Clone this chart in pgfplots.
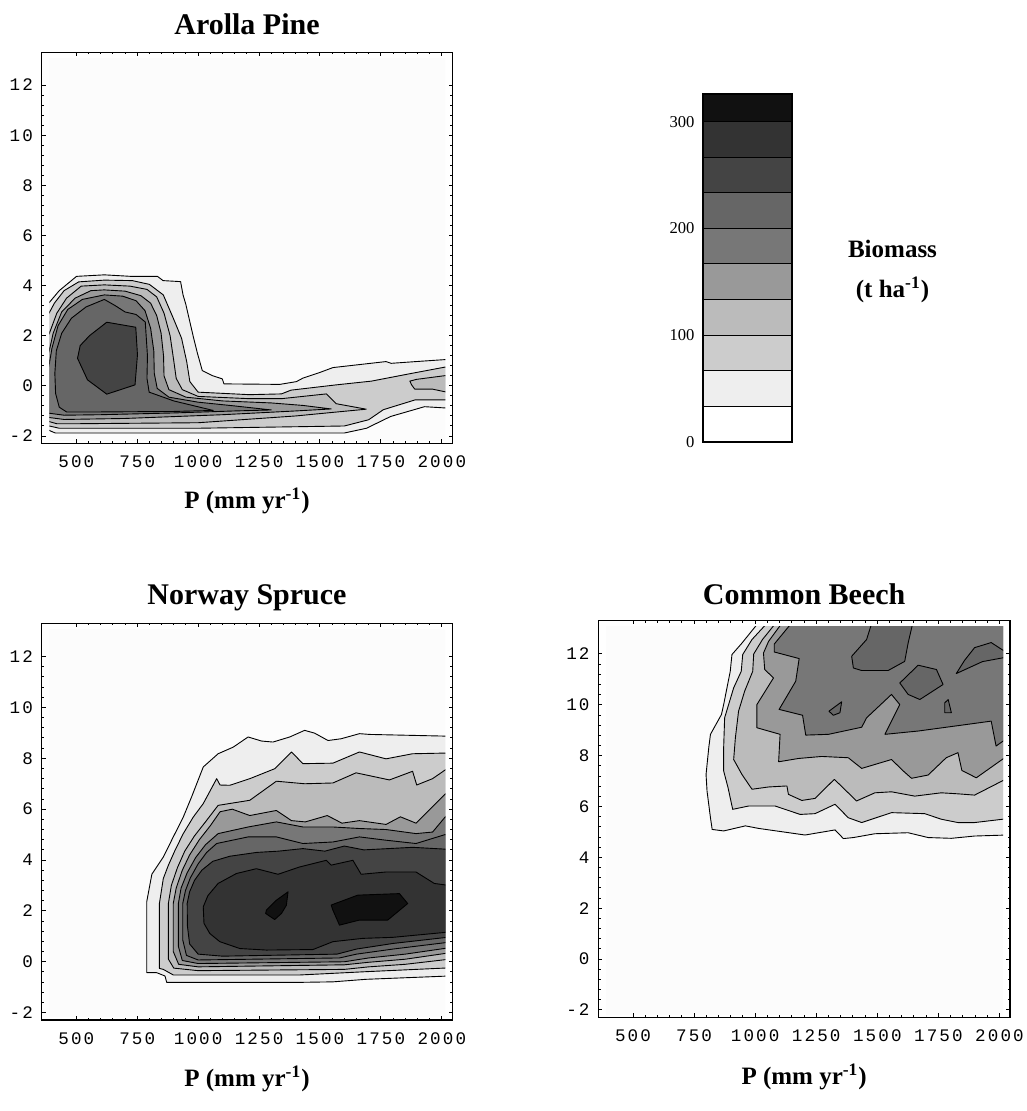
\documentclass[border=0pt]{standalone}
\usepackage{fontspec}
\setmainfont{Liberation Serif}
\newfontfamily\tickfont[LetterSpace=12]{Liberation Mono}
\usepackage{pgfplots}
\pgfplotsset{compat=1.18}
\definecolor{bgc}{gray}{0.988}
\definecolor{g1}{gray}{0.933}
\definecolor{g2}{gray}{0.800}
\definecolor{g3}{gray}{0.733}
\definecolor{g4}{gray}{0.600}
\definecolor{g5}{gray}{0.467}
\definecolor{g6}{gray}{0.400}
\definecolor{g7}{gray}{0.267}
\definecolor{g8}{gray}{0.200}
\definecolor{g9}{gray}{0.067}
\pgfplotsset{
  frameax/.style={scale only axis, anchor=south west, xmin=358, xmax=2043, ymin=-2.29, ymax=13.31,
    xtick={500,750,...,2000}, xticklabels={500,750,1000,1250,1500,1750,2000},
    ytick={-2,0,...,12}, yticklabels={-2,0,2,4,6,8,10,12},
    minor x tick num=4, minor y tick num=4, tick align=inside,
    major tick length=1.9pt, minor tick length=1.1pt,
    every tick/.style={black, line width=0.5pt},
    axis line style={line width=0.6pt},
    xticklabel style={font=\tickfont\fontsize{8.8}{10}\selectfont, anchor=center, yshift=-9.2pt},
    yticklabel style={font=\tickfont\fontsize{8.8}{10}\selectfont, anchor=east, inner sep=0pt, xshift=-4.2pt},
    every axis title/.style={at={(axis description cs:0.5,1)}, anchor=base, font=\bfseries\fontsize{15}{18}\selectfont},
    every axis x label/.style={at={(axis description cs:0.5,0)}, anchor=base, font=\bfseries\fontsize{12.5}{15}\selectfont},
    xlabel={P (mm yr\textsuperscript{-1})},
  },
  dataax/.style={scale only axis, anchor=south west, hide axis, xmin=389, xmax=2015, ymin=-2.17, ymax=13.07, clip=true},
  cl/.style={draw=black, line width=0.45pt, line join=round},
}
\begin{document}
\begin{tikzpicture}
\path[use as bounding box] (0,0) rectangle (513pt,555.5pt);
% ================= Arolla Pine =================
\begin{axis}[dataax, at={(24.627pt,335.354pt)}, width=198.11pt, height=190.99pt]
\addplot[fill=bgc, draw=none] coordinates {(300,-3)(2100,-3)(2100,14)(300,14)} -- cycle;
\addplot[cl, fill=g1] coordinates {(380,3.22) (430,3.80) (501,4.37) (615,4.43) (724,4.37) (833,4.37) (856,4.20) (928,4.16) (938,3.63) (949,3.27) (979,2.01) (996,1.34) (1017,0.61) (1058,0.41) (1099,0.28) (1106,0.08) (1335,0.06) (1403,0.17) (1430,0.31) (1498,0.53) (1553,0.73) (1771,0.97) (1792,0.90) (1894,0.97) (2030,1.06) (2030,-0.89) (1929,-0.83) (1790,-1.22) (1691,-1.69) (1600,-1.88) (1009,-1.88) (503,-1.88) (414,-1.88) (394,-1.80) (380,-1.72)} -- cycle;
\addplot[cl, fill=g2] coordinates {(380,2.75) (410,3.3) (450,3.8) (510,4.15) (615,4.22) (730,4.2) (800,4.05) (857,3.63) (898,2.7) (932,1.9) (953,0.97) (966,0.17) (1000,-0.25) (1210,-0.35) (1342,-0.32) (1381,-0.17) (1566,0.04) (1711,0.19) (1882,0.51) (2030,0.78) (2030,-0.56) (1890,-0.56) (1760,-0.95) (1700,-1.35) (1600,-1.6) (1000,-1.69) (500,-1.69) (430,-1.69) (380,-1.58)} -- cycle;
\addplot[cl, fill=g3] coordinates {(380,1.85) (420,2.9) (460,3.5) (520,3.98) (615,4.03) (720,3.98) (790,3.85) (830,3.55) (860,2.9) (885,2.0) (900,1.0) (910,0.3) (935,-0.15) (1000,-0.42) (1210,-0.51) (1342,-0.51) (1526,-0.32) (1566,-0.71) (1690,-0.93) (1560,-1.05) (1400,-1.2) (1000,-1.47) (500,-1.51) (420,-1.51) (380,-1.40)} -- cycle;
\addplot[cl, fill=g3] coordinates {(1869,0.19) (1896,0.26) (2030,0.43) (2030,-0.27) (1962,-0.13) (1889,-0.13) (1876,0.04)} -- cycle;
\addplot[cl, fill=g4] coordinates {(380,1.0) (405,2.1) (440,2.95) (495,3.5) (560,3.8) (615,3.83) (700,3.78) (765,3.6) (805,3.3) (830,2.8) (848,2.1) (858,1.2) (860,0.4) (880,-0.15) (950,-0.45) (1100,-0.6) (1300,-0.68) (1430,-0.78) (1546,-0.92) (1400,-1.0) (1100,-1.15) (700,-1.3) (450,-1.34) (380,-1.25)} -- cycle;
\addplot[cl, fill=g5] coordinates {(380,0.35) (400,1.5) (425,2.4) (465,3.05) (525,3.45) (615,3.63) (690,3.58) (745,3.4) (782,3.0) (805,2.3) (818,1.4) (820,0.5) (832,-0.1) (880,-0.45) (1000,-0.65) (1150,-0.8) (1300,-0.96) (1150,-1.0) (900,-1.08) (600,-1.15) (450,-1.17) (380,-1.08)} -- cycle;
\addplot[cl, fill=g6] coordinates {(412,0.5) (418,1.4) (440,2.1) (480,2.7) (540,3.15) (615,3.45) (660,3.2) (700,2.95) (745,2.85) (783,2.55) (792,1.2) (790,0.3) (799,-0.25) (900,-0.6) (1062,-0.98) (900,-1.02) (600,-1.04) (460,-1.04) (430,-0.85) (415,-0.3)} -- cycle;
\addplot[cl, fill=g7] coordinates {(625,2.54) (744,2.34) (751,1.24) (741,0.04) (625,-0.33) (546,0.24) (505,1.10) (516,1.61) (555,2.01)} -- cycle;
\end{axis}
\begin{axis}[frameax, at={(20.85pt,333.85pt)}, width=205.3pt, height=195.5pt,
  title={Arolla Pine}, title style={yshift=9pt}, xlabel style={yshift=-32.5pt}]
\end{axis}
% ================= Norway Spruce =================
\begin{axis}[dataax, at={(24.627pt,47.026pt)}, width=198.11pt, height=193.77pt]
\addplot[fill=bgc, draw=none] coordinates {(300,-3)(2100,-3)(2100,14)(300,14)} -- cycle;
\addplot[cl, fill=g1] coordinates {(789,-0.43) (789,2.36) (810,3.44) (857,4.12) (898,4.91) (939,5.69) (973,6.48) (1021,7.66) (1082,8.18) (1144,8.44) (1205,8.84) (1260,8.68) (1307,8.64) (1376,8.84) (1437,9.10) (1478,8.99) (1533,8.70) (1587,8.77) (1662,8.97) (1703,8.94) (2030,8.87) (2030,-0.56) (1689,-0.69) (1553,-0.79) (1417,-0.81) (871,-0.81) (864,-0.56) (830,-0.43)} -- cycle;
\addplot[cl, fill=g2] coordinates {(841,-0.26) (841,2.29) (857,3.27) (878,3.80) (905,4.38) (939,5.04) (980,5.69) (1021,6.22) (1076,7.20) (1090,6.95) (1130,6.94) (1212,7.20) (1314,7.59) (1383,8.25) (1430,7.79) (1553,7.81) (1662,8.25) (1771,7.98) (1880,8.18) (2030,8.21) (2030,-0.24) (1689,-0.39) (1417,-0.52) (898,-0.52) (857,-0.30)} -- cycle;
\addplot[cl, fill=g3] coordinates {(878,0.1) (878,2.3) (890,3.0) (915,3.7) (945,4.35) (985,4.95) (1030,5.5) (1082,6.15) (1212,6.35) (1321,7.10) (1437,7.0) (1553,7.03) (1648,7.43) (1785,7.15) (1880,7.49) (1897,6.95) (1962,7.2) (2030,7.65) (2030,0.1) (1850,-0.1) (1700,-0.2) (1600,-0.3) (1000,-0.35) (900,-0.25)} -- cycle;
\addplot[cl, fill=g4] coordinates {(898,0.4) (898,2.3) (910,2.9) (935,3.6) (965,4.2) (1005,4.8) (1050,5.35) (1090,5.9) (1140,6.0) (1212,5.75) (1321,5.95) (1383,5.55) (1440,5.5) (1530,5.75) (1590,5.45) (1662,5.55) (1771,5.4) (1830,5.7) (1894,5.45) (2030,6.75) (2030,0.35) (1850,0.1) (1700,-0.02) (1600,-0.12) (1000,-0.2) (920,-0.1)} -- cycle;
\addplot[cl, fill=g5] coordinates {(919,0.6) (919,2.3) (930,2.9) (955,3.5) (990,4.1) (1030,4.6) (1082,5.04) (1205,5.30) (1321,5.50) (1430,5.30) (1553,5.30) (1662,5.24) (1771,5.20) (1894,5.04) (1962,5.10) (2030,5.88) (2030,0.55) (1850,0.3) (1700,0.15) (1600,0.0) (1000,-0.07) (935,0.05)} -- cycle;
\addplot[cl, fill=g6] coordinates {(937,0.85) (937,2.3) (948,2.8) (968,3.3) (1000,3.85) (1035,4.3) (1076,4.65) (1205,4.91) (1321,4.91) (1430,4.65) (1553,4.71) (1662,4.91) (1771,4.78) (1894,4.65) (2030,5.05) (2030,0.77) (1800,0.5) (1650,0.3) (1580,0.15) (1000,0.07) (952,0.25)} -- cycle;
\addplot[cl, fill=g7] coordinates {(956,1.4) (955,2.3) (965,2.75) (985,3.2) (1015,3.6) (1060,3.95) (1130,4.15) (1240,4.3) (1330,4.35) (1430,4.45) (1520,4.35) (1600,4.55) (1680,4.4) (1780,4.45) (1880,4.5) (2030,4.42) (2030,0.97) (1800,0.72) (1650,0.5) (1570,0.3) (1100,0.22) (1000,0.3) (965,0.7)} -- cycle;
\addplot[cl, fill=g8] coordinates {(1021,2.16) (1040,2.6) (1082,3.08) (1157,3.47) (1239,3.66) (1328,3.44) (1417,3.73) (1526,3.99) (1546,3.80) (1635,3.99) (1669,3.44) (1771,3.53) (1894,3.53) (1969,3.08) (2030,3.0) (2030,1.17) (1799,0.96) (1676,0.92) (1553,0.79) (1471,0.48) (1280,0.46) (1171,0.52) (1089,0.79) (1048,1.11) (1024,1.51)} -- cycle;
\addplot[cl, fill=g9] coordinates {(1280,2.03) (1321,2.42) (1369,2.75) (1362,2.22) (1342,1.90) (1314,1.66) (1277,1.90)} -- cycle;
\addplot[cl, fill=g9] coordinates {(1546,2.23) (1655,2.62) (1826,2.68) (1860,2.29) (1778,1.64) (1662,1.64) (1580,1.44) (1553,2.03)} -- cycle;
\end{axis}
\begin{axis}[frameax, at={(20.85pt,45.5pt)}, width=205.3pt, height=198.35pt,
  title={Norway Spruce}, title style={yshift=9.5pt}, xlabel style={yshift=-33pt}]
\end{axis}
% ================= Common Beech =================
\begin{axis}[dataax, at={(302.937pt,48.375pt)}, width=198.64pt, height=193.72pt]
\addplot[fill=bgc, draw=none] coordinates {(300,-3)(2100,-3)(2100,14)(300,14)} -- cycle;
\addplot[cl, fill=g1] coordinates {(1019,13.3) (946,12.43) (905,11.98) (898,11.32) (871,10.01) (862,9.62) (817,8.84) (810,8.31) (799,7.26) (803,6.61) (817,5.56) (824,5.10) (871,5.04) (960,5.24) (1014,5.14) (1204,4.88) (1327,5.08) (1361,4.74) (1402,4.78) (1490,4.93) (1626,4.97) (1708,4.78) (1803,4.75) (1898,4.84) (2030,4.88) (2030,13.3)} -- cycle;
\addplot[cl, fill=g2] coordinates {(1057,13.3) (987,12.57) (949,11.98) (943,11.32) (912,10.67) (875,9.49) (871,8.31) (871,7.40) (889,6.74) (908,5.89) (973,6.02) (1082,6.02) (1184,5.69) (1245,5.72) (1327,6.09) (1381,5.56) (1436,5.37) (1558,5.76) (1694,5.72) (1762,5.50) (1830,5.37) (1898,5.37) (2030,5.52) (2030,13.3)} -- cycle;
\addplot[cl, fill=g3] coordinates {(1091,13.3) (1030,12.57) (994,12.0) (990,11.32) (957,10.54) (932,9.75) (919,8.70) (912,7.85) (946,7.26) (987,6.68) (1055,6.77) (1130,6.81) (1136,6.48) (1191,6.24) (1245,6.32) (1324,7.07) (1415,6.22) (1490,6.54) (1558,6.58) (1653,6.41) (1762,6.54) (1830,6.50) (1898,6.45) (2030,7.1) (2030,13.3)} -- cycle;
\addplot[cl, fill=g4] coordinates {(1116,13.3) (1055,12.5) (1034,12.04) (1039,11.39) (1075,11.06) (1007,10.01) (1007,9.10) (1102,8.84) (1096,7.76) (1177,7.89) (1272,7.97) (1381,7.92) (1436,7.50) (1558,7.85) (1606,7.40) (1640,7.11) (1708,7.24) (1782,7.92) (1830,8.12) (1846,7.42) (1905,7.13) (2030,7.98) (2030,13.3)} -- cycle;
\addplot[cl, fill=g5] coordinates {(1156,13.3) (1078,12.39) (1078,12.08) (1180,11.82) (1166,10.93) (1098,9.82) (1194,9.59) (1207,8.81) (1300,8.84) (1436,9.12) (1456,9.49) (1558,10.41) (1592,10.01) (1531,8.84) (1667,8.97) (1844,9.20) (1966,9.36) (1986,8.38) (2014,8.57) (2030,8.7) (2030,13.3)} -- cycle;
\addplot[cl, fill=g6] coordinates {(1480,13.3) (1456,12.57) (1395,11.91) (1402,11.45) (1436,11.35) (1544,11.35) (1612,11.71) (1626,12.43) (1647,13.3)} -- cycle;
\addplot[cl, fill=g6] coordinates {(1592,10.86) (1667,11.56) (1742,11.39) (1769,10.8) (1674,10.21) (1626,10.41)} -- cycle;
\addplot[cl, fill=g6] coordinates {(1823,11.23) (1857,11.75) (1898,12.25) (1966,12.45) (2014,12.15) (2030,12.1) (2030,11.85) (2014,11.85) (1930,11.7)} -- cycle;
\addplot[cl, fill=g6] coordinates {(1776,10.08) (1790,10.21) (1803,9.69) (1776,9.69)} -- cycle;
\addplot[cl, fill=g6] coordinates {(1302,9.75) (1354,10.12) (1347,9.69) (1320,9.59)} -- cycle;
\end{axis}
\begin{axis}[frameax, at={(299.15pt,46.85pt)}, width=205.85pt, height=198.3pt,
  title={Common Beech}, title style={yshift=8.2pt}, xlabel style={yshift=-33.5pt}]
\end{axis}
% ================= Colour bar =================
\begin{axis}[scale only axis, anchor=south west, at={(351.65pt,334.65pt)}, width=44.5pt, height=173.7pt,
  xmin=0, xmax=1, ymin=0, ymax=325.6, xtick=\empty, ytick={0,100,200,300}, yticklabels={0,100,200,300},
  major tick length=0pt, yticklabel style={font=\fontsize{8.3}{10}\selectfont, anchor=east, inner sep=0pt, xshift=-4.2pt},
  axis line style={line width=1pt}, axis on top, clip=true]
\addplot[fill=white, cl] coordinates {(-1,-10)(2,-10)(2,33.33)(-1,33.33)} -- cycle;
\addplot[fill=g1, cl] coordinates {(-1,33.33)(2,33.33)(2,66.67)(-1,66.67)} -- cycle;
\addplot[fill=g2, cl] coordinates {(-1,66.67)(2,66.67)(2,100)(-1,100)} -- cycle;
\addplot[fill=g3, cl] coordinates {(-1,100)(2,100)(2,133.33)(-1,133.33)} -- cycle;
\addplot[fill=g4, cl] coordinates {(-1,133.33)(2,133.33)(2,166.67)(-1,166.67)} -- cycle;
\addplot[fill=g5, cl] coordinates {(-1,166.67)(2,166.67)(2,200)(-1,200)} -- cycle;
\addplot[fill=g6, cl] coordinates {(-1,200)(2,200)(2,233.33)(-1,233.33)} -- cycle;
\addplot[fill=g7, cl] coordinates {(-1,233.33)(2,233.33)(2,266.67)(-1,266.67)} -- cycle;
\addplot[fill=g8, cl] coordinates {(-1,266.67)(2,266.67)(2,300)(-1,300)} -- cycle;
\addplot[fill=g9, cl] coordinates {(-1,300)(2,300)(2,340)(-1,340)} -- cycle;
\end{axis}
\node[anchor=base, font=\bfseries\fontsize{12.5}{15}\selectfont] at (446.25pt,426.85pt) {Biomass};
\node[anchor=base, font=\bfseries\fontsize{12.5}{15}\selectfont] at (446.25pt,406.85pt) {(t ha\textsuperscript{-1})};
\end{tikzpicture}
\end{document}
